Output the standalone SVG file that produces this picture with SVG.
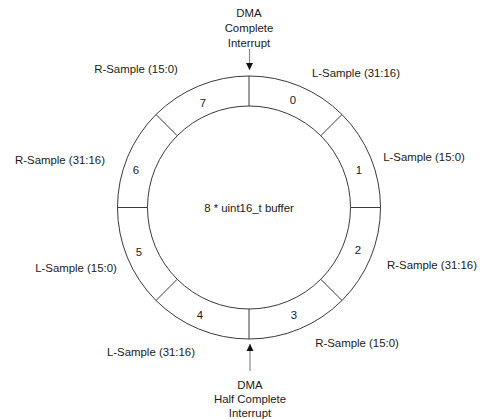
<svg xmlns="http://www.w3.org/2000/svg" width="481" height="419" viewBox="0 0 481 419">
<defs>
<style>
text{font-family:"Liberation Sans",Arial,sans-serif;font-size:11.4px;fill:#1a1a1a;text-anchor:middle;dominant-baseline:central}
.ring{fill:none;stroke:#3a3a3a;stroke-width:1}
.div{stroke:#3a3a3a;stroke-width:1}
.arr{stroke:#8a8a8a;stroke-width:1.2;fill:none}
</style>
<marker id="ah" markerWidth="8" markerHeight="8" refX="7" refY="4" orient="auto" markerUnits="userSpaceOnUse">
<path d="M0,0.5 L7,4 L0,7.5 Z" fill="#111"/>
</marker>
</defs>
<rect width="481" height="419" fill="#fff"/>
<g id="buffer">
<circle class="ring" cx="249" cy="207.5" r="131.5"/>
<circle class="ring" cx="249" cy="207.5" r="101.5"/>
<text x="249" y="208">8 * uint16_t buffer</text>
</g>
<g id="dividers">
<line class="div" x1="249" y1="76" x2="249" y2="106"/>
<line class="div" x1="249" y1="309" x2="249" y2="339"/>
<line class="div" x1="117.5" y1="207.5" x2="147.5" y2="207.5"/>
<line class="div" x1="350.5" y1="207.5" x2="380.5" y2="207.5"/>
<line class="div" x1="342" y1="114.5" x2="320.8" y2="135.7"/>
<line class="div" x1="156" y1="114.5" x2="177.2" y2="135.7"/>
<line class="div" x1="342" y1="300.5" x2="320.8" y2="279.3"/>
<line class="div" x1="156" y1="300.5" x2="177.2" y2="279.3"/>
</g>
<g id="slot0"><text x="293" y="100">0</text></g>
<g id="slot1"><text x="359" y="170">1</text></g>
<g id="slot2"><text x="358" y="250">2</text></g>
<g id="slot3"><text x="294" y="315">3</text></g>
<g id="slot4"><text x="200" y="315">4</text></g>
<g id="slot5"><text x="139" y="252">5</text></g>
<g id="slot6"><text x="136" y="170">6</text></g>
<g id="slot7"><text x="203" y="103">7</text></g>
<g id="labels">
<text x="356" y="73">L-Sample (31:16)</text>
<text x="424" y="157">L-Sample (15:0)</text>
<text x="432" y="265">R-Sample (31:16)</text>
<text x="357" y="343">R-Sample (15:0)</text>
<text x="151" y="352">L-Sample (31:16)</text>
<text x="76" y="268">L-Sample (15:0)</text>
<text x="60" y="160">R-Sample (31:16)</text>
<text x="136" y="69">R-Sample (15:0)</text>
</g>
<g id="dma-complete">
<text x="249" y="13">DMA</text>
<text x="249" y="28">Complete</text>
<text x="249" y="43">Interrupt</text>
</g>
<g id="dma-half">
<text x="250" y="385">DMA</text>
<text x="250" y="399">Half Complete</text>
<text x="250" y="413">Interrupt</text>
</g>
<g id="connectors">
<line class="arr" x1="249.5" y1="49" x2="249.5" y2="70" marker-end="url(#ah)"/>
<line class="arr" x1="250" y1="371" x2="250" y2="344" marker-end="url(#ah)"/>
</g>
</svg>
